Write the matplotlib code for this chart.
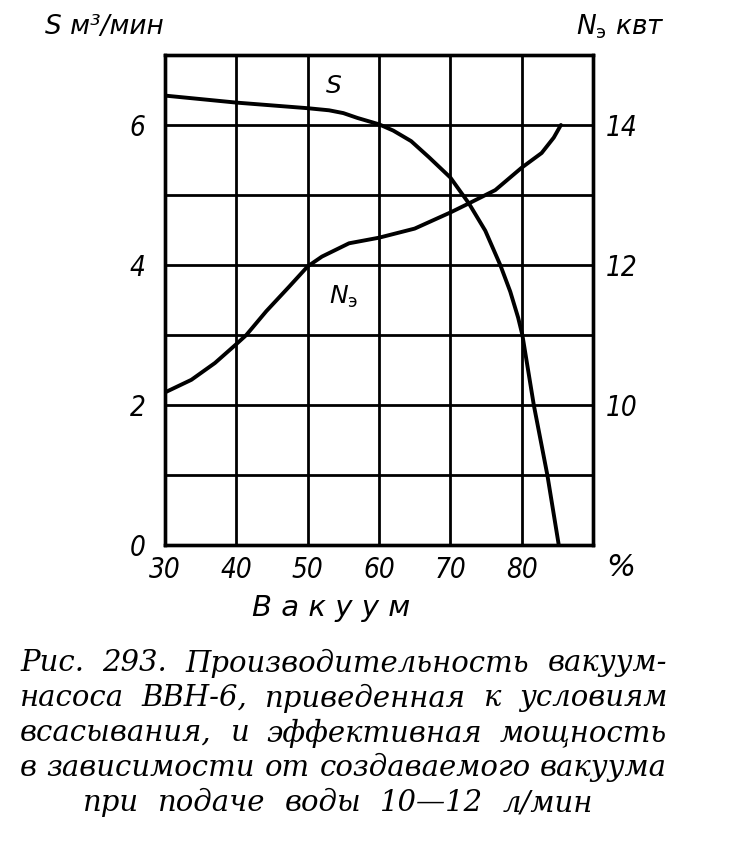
import matplotlib
matplotlib.use("Agg")
import matplotlib.pyplot as plt

# ---- data ----
vacuum_s = [30, 35, 40, 45, 50, 53, 55, 57, 60, 62, 64.5, 67, 70, 72.6, 74.9, 77.0, 78.4, 79.5, 80.1, 81.7, 83.6, 85.2]
S_values = [6.42, 6.37, 6.32, 6.28, 6.24, 6.21, 6.17, 6.10, 6.01, 5.92, 5.77, 5.54, 5.25, 4.88, 4.49, 4.00, 3.62, 3.25, 3.00, 2.00, 1.00, 0.00]

vacuum_n = [30, 33.7, 37, 40, 41.4, 44.2, 47.4, 50, 52, 55.8, 60, 65, 70, 72.6, 76.3, 80, 82.8, 84.5, 85.5]
N_values = [10.18, 10.36, 10.60, 10.87, 11.00, 11.34, 11.69, 11.98, 12.12, 12.31, 12.39, 12.52, 12.75, 12.88, 13.07, 13.39, 13.60, 13.82, 14.00]

x_ticks = [30, 40, 50, 60, 70, 80]
x_tick_labels = ["30", "40", "50", "60", "70", "80"]
s_ticks = [0, 2, 4, 6]
n_ticks = [10, 12, 14]

caption_lines = [
    "Рис. 293. Производительность вакуум-",
    "насоса ВВН-6, приведенная к условиям",
    "всасывания, и эффективная мощность",
    "в зависимости от создаваемого вакуума",
    "при подаче воды 10—12 л/мин",
]

lab_font = ["DejaVu Sans"]
cap_font = ["DejaVu Serif"]

W, H = 731, 844
fig = plt.figure(figsize=(W / 100, H / 100), dpi=100)
fig.patch.set_facecolor("white")
ax = fig.add_axes([165 / W, 1 - 545 / H, (593 - 165) / W, (545 - 55) / H])
ax2 = ax.twinx()

ax.set_xlim(30, 90)
ax.set_ylim(0, 7)
ax2.set_ylim(8, 15)

# grid
for gx in range(30, 91, 10):
    ax.axvline(gx, color="black", lw=2.0, zorder=1)
for gy in range(0, 8):
    ax.axhline(gy, color="black", lw=2.0, zorder=1)
for sp in list(ax.spines.values()) + list(ax2.spines.values()):
    sp.set_linewidth(2.4)

ax.plot(vacuum_s, S_values, color="black", lw=2.8, zorder=3, solid_capstyle="round")
ax2.plot(vacuum_n, N_values, color="black", lw=2.8, zorder=3, solid_capstyle="round")

tick_kw = dict(fontsize=20, style="italic", family=lab_font, stretch="condensed")
ax.set_xticks(x_ticks)
ax.set_xticklabels(x_tick_labels, **tick_kw)
ax.set_yticks(s_ticks)
ax.set_yticklabels([str(v) for v in s_ticks], **tick_kw)
ax2.set_yticks(n_ticks)
ax2.set_yticklabels([str(v) for v in n_ticks], **tick_kw)
ax.tick_params(axis="x", length=0, pad=8)
ax.tick_params(axis="y", length=0, pad=14)
ax2.tick_params(axis="y", length=0, pad=9)

# "%" at the end of the x axis
fig.text(621 / W, 1 - 568 / H, "%", ha="center", va="center",
         fontsize=22, style="italic", family=lab_font)

# curve labels
ax.text(53.7, 6.56, "S", ha="center", va="center", fontsize=18, style="italic", family=lab_font, zorder=4)
ax.text(55.0, 3.55, r"N$_{\mathsf{э}}$", ha="center", va="center", fontsize=18, style="italic", family=lab_font, zorder=4)

# axis titles
fig.text(45 / W, 1 - 27 / H, "S м³/мин", ha="left", va="center", fontsize=19, style="italic", family=lab_font)
fig.text(665 / W, 1 - 27 / H, r"N$_{\mathsf{э}}$ квт", ha="right", va="center", fontsize=19, style="italic", family=lab_font)
fig.text(331 / W, 1 - 608 / H, "В а к у у м", ha="center", va="center", fontsize=21, style="italic", family=lab_font)

# caption (justified lines)
cap_y = [663, 698, 733, 768, 803]
cap_size = 21
renderer = fig.canvas.get_renderer()


def place_line(line, yy, x0, x1):
    words = line.split()
    texts = [fig.text(0, 1 - yy / H, w, ha="left", va="center", fontsize=cap_size,
                      style="italic", family=cap_font) for w in words]
    widths = [t.get_window_extent(renderer).width for t in texts]
    gap = (x1 - x0 - sum(widths)) / (len(words) - 1)
    x = x0
    for t, w in zip(texts, widths):
        t.set_x(x / W)
        x += w + gap


for i, (line, yy) in enumerate(zip(caption_lines, cap_y)):
    if i < 4:
        place_line(line, yy, 20, 667)
    else:
        place_line(line, yy, 83, 593)

fig.savefig("out.png", dpi=100, facecolor="white")
